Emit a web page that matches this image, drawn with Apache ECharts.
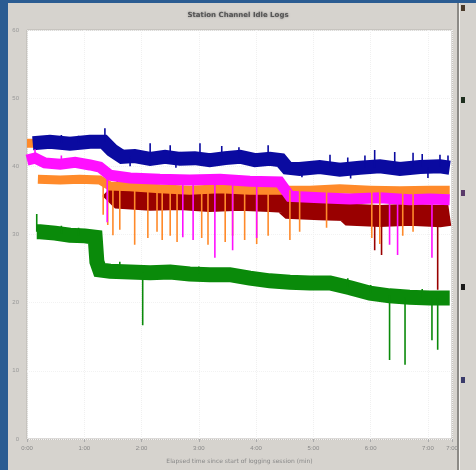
<!DOCTYPE html>
<html>
<head>
<meta charset="utf-8">
<script src="https://cdn.jsdelivr.net/npm/echarts@6/dist/echarts.min.js"></script>
<style>
html,body{margin:0;padding:0;background:#d6d3ce;}
#c{width:476px;height:470px;}
</style>
</head>
<body>
<div id="c"></div>
<script>
var titleText = 'Station Channel Idle Logs';
var xAxisName = 'Elapsed time since start of logging session (min)';
var xTickLabels = ['0:00', '1:00', '2:00', '3:00', '4:00', '5:00', '6:00', '7:00'];
var yTickLabels = ['0', '10', '20', '30', '40', '50', '60'];

// bands: [x, value]
var blueBand = [[10,43.4],[40,43.6],[75,43.3],[110,43.6],[134,43.6],[148,42.4],[166,41.4],[188,41.5],[215,41.1],[241,41.4],[267,41.1],[293,41.2],[319,40.9],[346,41.2],[372,41.4],[398,40.9],[424,41.1],[443,40.9],[454,39.8],[476,39.6],[511,39.9],[546,39.5],[581,39.8],[616,40.0],[651,39.6],[686,39.9],[721,40.0],[738,39.8]];
var orangeBand = [[0,43.4],[17,43.4],[18,null],[19,38.1],[58,38.0],[92,38.1],[127,38.0],[145,37.1],[180,37.0],[232,36.7],[284,36.5],[337,36.7],[389,36.5],[441,36.5],[494,36.5],[546,36.7],[599,36.5],[651,36.4],[703,36.5],[738,36.5]];
var magentaBand = [[0,40.9],[14,41.2],[31,40.5],[58,40.3],[84,40.6],[110,40.2],[127,39.9],[145,38.7],[180,38.3],[232,38.1],[284,38.0],[337,38.1],[389,37.8],[441,37.7],[459,35.6],[511,35.4],[564,35.2],[616,35.4],[668,35.1],[703,35.2],[738,35.1]];
var darkredBand = [[145,36.8],[162,35.4],[215,35.1],[267,35.2],[319,34.9],[372,35.1],[424,34.9],[447,34.8],[459,33.9],[511,33.7],[555,33.6],[564,32.9],[616,32.7],[668,32.9],[721,32.7],[738,32.9]];
var greenBand = [[17,30.4],[23,30.4],[49,30.2],[75,29.9],[101,29.8],[119,29.6],[122,26.0],[127,24.8],[145,24.6],[180,24.5],[215,24.4],[250,24.5],[284,24.2],[319,24.1],[354,24.1],[389,23.6],[424,23.2],[459,23.0],[494,22.9],[529,22.9],[564,22.2],[599,21.4],[633,21.0],[668,20.8],[703,20.7],[738,20.7]];

// spikes: [x, base, tip]
var blueSpikes = [[60,43.5,44.6],[90,43.5,44.5],[136,43.6,45.6],[180,41.5,40.0],[215,41.1,43.4],[250,41.2,43.1],[260,41.3,39.8],[302,41.2,43.4],[340,41.2,43.0],[370,41.3,42.8],[421,41.1,43.1],[480,39.6,38.4],[529,39.8,41.7],[560,39.6,41.3],[565,39.6,38.2],[590,39.8,41.6],[607,39.8,42.4],[642,39.8,42.1],[674,39.9,42.0],[690,39.9,41.8],[700,39.9,38.3],[721,40.0,41.7],[735,39.8,41.6]];
var orangeSpikes = [[133,38.0,32.9],[141,37.5,31.4],[150,37.1,29.9],[162,37.1,30.7],[188,37.0,28.5],[211,36.8,29.5],[227,36.7,30.4],[236,36.7,29.2],[250,36.7,29.8],[262,36.6,28.9],[305,36.6,29.5],[316,36.6,28.5],[346,36.7,28.9],[359,36.6,29.8],[380,36.5,29.2],[401,36.5,28.6],[421,36.5,29.8],[459,36.5,29.2],[476,36.5,30.4],[523,36.6,31.0],[602,36.5,29.5],[616,36.5,28.6],[656,36.4,29.8],[674,36.4,30.4]];
var magentaSpikes = [[14,41.2,42.5],[60,40.3,41.6],[140,39.0,31.8],[272,38.0,29.6],[290,38.0,29.2],[328,38.1,26.6],[359,38.0,27.7],[401,37.8,29.5],[633,35.3,28.5],[647,35.2,27.0],[707,35.2,26.6]];
var darkredSpikes = [[607,32.7,27.7],[619,32.7,27.0],[717,32.7,21.9]];
var greenSpikes = [[17,30.4,33.0],[60,30.2,31.3],[90,29.8,31.0],[162,24.6,26.0],[202,24.4,16.7],[300,24.2,25.3],[560,22.3,23.6],[600,21.4,22.6],[633,21.0,11.6],[660,20.8,10.9],[690,20.7,22.0],[707,20.7,14.5],[717,20.7,13.1]];

function spikeData(sp){
  var out = [];
  sp.forEach(function(s){ out.push([s[0], s[1]]); out.push([s[0], s[2]]); out.push([s[0], null]); });
  return out;
}
function band(name, data, color, w){
  return {name:name, type:'line', data:data, symbol:'none', showSymbol:false, connectNulls:false,
    lineStyle:{color:color, width:w, join:'miter', cap:'butt'}, itemStyle:{color:color}, silent:true, animation:false};
}
function spikes(name, data, color){
  return {name:name, type:'line', data:spikeData(data), symbol:'none', showSymbol:false, connectNulls:false,
    lineStyle:{color:color, width:1.6}, itemStyle:{color:color}, silent:true, animation:false};
}

var chart = echarts.init(document.getElementById('c'), null, {renderer:'canvas'});
chart.setOption({
  backgroundColor:'#d6d3ce',
  animation:false,
  title:{text:titleText, left:'center', top:7, textStyle:{fontSize:7, color:'#555', fontWeight:'bold', fontFamily:'DejaVu Sans', textShadowColor:'rgba(80,80,80,0.6)', textShadowBlur:2}},
  grid:{left:27, right:24, top:30, bottom:31, show:true, backgroundColor:'#ffffff', borderColor:'#b8b5b0', borderWidth:1},
  xAxis:{type:'value', min:0, max:742, interval:100,
    name:xAxisName, nameLocation:'middle', nameGap:19,
    nameTextStyle:{fontSize:6, color:'#888', fontFamily:'DejaVu Sans'},
    axisLine:{show:false}, axisTick:{show:true, length:3, lineStyle:{color:'#aaa'}},
    axisLabel:{fontSize:6, color:'#888', margin:6, formatter:function(v){return xTickLabels[Math.round(v/100)] || '';}},
    splitLine:{show:true, lineStyle:{color:'#f0f0f0', type:'dotted'}}},
  yAxis:{type:'value', min:0, max:60, interval:10,
    axisLine:{show:false}, axisTick:{show:false},
    axisLabel:{fontSize:6, color:'#999', margin:8, formatter:function(v){return yTickLabels[Math.round(v/10)] || '';}},
    splitLine:{show:true, lineStyle:{color:'#f2f2f2', type:'dotted'}}},
  graphic:[
    {type:'rect', shape:{x:0,y:0,width:8,height:470}, style:{fill:'#2b5c92'}},
    {type:'rect', shape:{x:0,y:0,width:476,height:3}, style:{fill:'#2b5c92'}},
    {type:'rect', shape:{x:457,y:3,width:2,height:467}, style:{fill:'#8c8a86'}},
    {type:'rect', shape:{x:459,y:3,width:1,height:467}, style:{fill:'#f4f3f0'}},
    {type:'rect', shape:{x:461,y:5,width:4,height:6}, style:{fill:'#4a3a2a'}},
    {type:'rect', shape:{x:461,y:97,width:4,height:6}, style:{fill:'#1e2e1e'}},
    {type:'rect', shape:{x:461,y:190,width:4,height:6}, style:{fill:'#5a3a6a'}},
    {type:'rect', shape:{x:461,y:284,width:4,height:6}, style:{fill:'#1a1a1a'}},
    {type:'rect', shape:{x:461,y:377,width:4,height:6}, style:{fill:'#3a3a6a'}}
  ],
  series:[
    band('Channel 4', darkredBand, '#990000', 22),
    band('Channel 2', orangeBand, '#ff8a2a', 9),
    band('Channel 3', magentaBand, '#ff10ff', 11),
    band('Channel 1', blueBand, '#0a0aa0', 14),
    band('Channel 5', greenBand, '#0a8a0a', 15),
    spikes('Channel 4 spikes', darkredSpikes, '#990000'),
    spikes('Channel 2 spikes', orangeSpikes, '#ff8a2a'),
    spikes('Channel 3 spikes', magentaSpikes, '#ff10ff'),
    spikes('Channel 1 spikes', blueSpikes, '#0a0aa0'),
    spikes('Channel 5 spikes', greenSpikes, '#0a8a0a')
  ]
});
</script>
</body>
</html>
